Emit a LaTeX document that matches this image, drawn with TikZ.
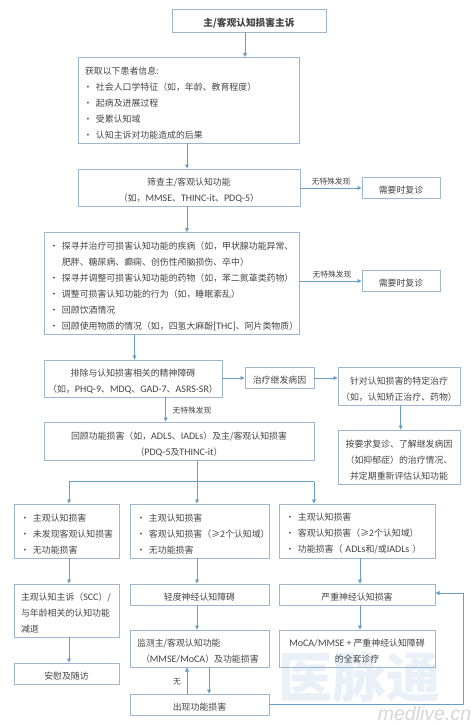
\documentclass[tikz,border=0pt]{standalone}
\usepackage{fontspec}
\setmainfont{Noto Sans CJK SC}
\newfontfamily\carl{Carlito}
\newfontfamily\wmfont{Liberation Sans}
\usetikzlibrary{arrows.meta}
\definecolor{boxc}{HTML}{9DB8CE}
\definecolor{arrc}{HTML}{6A9CC8}
\definecolor{txtc}{HTML}{444444}
\definecolor{wmblue}{HTML}{E9F0F7}
\definecolor{wmgray}{HTML}{D6D6D6}
\newcommand{\la}[1]{{\carl\fontsize{10}{16}\selectfont #1}}
\newcommand{\bl}{\makebox[11pt][l]{\hspace*{-1.5pt}•}}
\newcommand{\bx}[7][]{%
  \pgfmathsetmacro\bw{#5-#3}\pgfmathsetmacro\bh{#6-#4}%
  \pgfmathsetmacro\bcx{(#3+#5)/2}\pgfmathsetmacro\bcy{(#4+#6)/2}%
  \node[boxn,minimum width=\bw pt,minimum height=\bh pt] (#2) at (\bcx,\bcy) {};
  \node[txtn,#1] (#2t) at (#2.center) {#7};}
\tikzset{
  boxn/.style={draw=boxc,line width=0.9pt,inner sep=0pt,outer sep=0pt},
  txtn/.style={inner sep=0pt,outer sep=0pt,align=center,text=txtc,yshift=-3pt,
    font=\fontsize{8.9}{16}\selectfont},
  pad/.style={text width=\bw pt-#1*2pt,align=left},
  arr/.style={draw=arrc,line width=1pt,-{Latex[length=4.5pt,width=4.5pt]}},
  lin/.style={draw=arrc,line width=1pt},
  lab/.style={inner sep=0pt,text=txtc,font=\fontsize{7.8}{10}\selectfont},
  wm/.style={inner sep=0pt,text=wmblue}
}
\begin{document}
\begin{tikzpicture}[x=1pt,y=-1pt]
\useasboundingbox (0,0) rectangle (474,725);
% watermark
\node[wm,font=\bfseries\fontsize{54}{54}\selectfont] (wm1) at (359,677) {医脉通};
\node[inner sep=0pt,text=wmgray,font=\wmfont\itshape\fontsize{19.5}{20}\selectfont] (wm2) at (424.5,714) {medlive.cn};
% boxes
\bx[font=\bfseries\fontsize{9.7}{16}\selectfont]{A}{172}{9}{326}{32}{主/客观认知损害主诉}
\bx[pad=7]{B}{78}{57.5}{299.5}{143}{获取以下患者信息:\\\bl 社会人口学特征（如，年龄、教育程度）\\\bl 起病及进展过程\\\bl 受累认知域\\\bl 认知主诉对功能造成的后果}
\bx{C}{78}{169}{300}{206}{筛查主/客观认知功能\\（如，\la{MMSE}、\la{THINC-it}、\la{PDQ-5}）}
\bx{C2}{362}{177}{440}{198}{需要时复诊}
\bx[pad=7]{D}{44}{232.5}{299.5}{334}{\bl 探寻并治疗可损害认知功能的疾病（如，甲状腺功能异常、\\\hspace*{11pt}肥胖、糖尿病、癫痫、创伤性颅脑损伤、卒中）\\\bl 探寻并调整可损害认知功能的药物（如，苯二氮䓬类药物）\\\bl 调整可损害认知功能的行为（如，睡眠紊乱）\\\bl 回顾饮酒情况\\\bl 回顾使用物质的情况（如，四氢大麻酚\la{[THC]}、阿片类物质）}
\bx{D2}{362}{270}{440}{291}{需要时复诊}
\bx{C3}{44}{360}{222}{397}{排除与认知损害相关的精神障碍\\（如，\la{PHQ-9}、\la{MDQ}、\la{GAD-7}、\la{ASRS-SR}）}
\bx{F}{245}{367}{314}{388}{治疗继发病因}
\bx{G}{338}{367}{460}{405}{针对认知损害的特定治疗\\（如，认知矫正治疗、药物）}
\bx{H}{44}{422}{314}{460}{回顾功能损害（如，\la{ADLS}、\la{IADLs}）及主/客观认知损害\\（\la{PDQ-5}及\la{THINC-it}）}
\bx{I}{338}{430}{460}{484}{按要求复诊、了解继发病因\\（如抑郁症）的治疗情况、\\并定期重新评估认知功能}
\bx[pad=8]{J1}{14}{504}{119}{558}{\bl 主观认知损害\\\bl 未发现客观认知损害\\\bl 无功能损害}
\bx[pad=8]{J2}{130}{504}{269}{558}{\bl 主观认知损害\\\bl 客观认知损害（≥2个认知域）\\\bl 无功能损害}
\bx[pad=8]{J3}{279}{504}{435}{558}{\bl 主观认知损害\\\bl 客观认知损害（≥2个认知域）\\\bl 功能损害（ \la{ADLs}和/或\la{IADLs} ）}
\bx[pad=7]{K1}{14}{584}{119}{637}{主观认知主诉（\la{SCC}）/\\与年龄相关的认知功能\\减退}
\bx{K2}{130}{584}{269}{605}{轻度神经认知障碍}
\bx{K3}{279}{584}{435}{605}{严重神经认知损害}
\bx{L1}{14}{663}{119}{684}{安慰及随访}
\bx[pad=7]{L2}{130}{630}{269}{667}{监测主/客观认知功能\\\hspace*{4pt}（\la{MMSE/MoCA}）及功能损害}
\bx{L3}{279}{630}{435}{667}{\la{MoCA/MMSE} + 严重神经认知障碍\\的全套诊疗}
\bx{M}{130}{694}{269}{715}{出现功能损害}
% helper positions
\coordinate (xa) at (245,0);
\coordinate (xb) at (187,0);
\coordinate (xc) at (134.5,0);
\coordinate (xd) at (165.7,0);
\coordinate (xg) at (400.7,0);
\coordinate (x1) at (69,0);
\coordinate (x2) at (197,0);
\coordinate (x3) at (314,0);
\coordinate (x4) at (360,0);
\coordinate (xu) at (187,0);
\coordinate (xv) at (209,0);
\coordinate (xr) at (463,0);
\coordinate (bus) at (0,481.5);
\coordinate (yc) at (0,188);
\coordinate (yd) at (0,281);
\coordinate (ye) at (0,378);
\coordinate (ym) at (0,704);
\coordinate (yk) at (0,593);
% connectors
\draw[arr] (A.south -| xa) -- (B.north -| xa);
\draw[arr] (B.south -| xb) -- (C.north -| xb);
\draw[arr] (C.south -| xb) -- (D.north -| xb);
\draw[arr] (C.east |- yc) -- (C2.west |- yc);
\draw[arr] (D.east |- yd) -- (D2.west |- yd);
\draw[arr] (D.south -| xc) -- (C3.north -| xc);
\draw[arr] (C3.south -| xd) -- (H.north -| xd);
\draw[arr] (C3.east |- ye) -- (F.west |- ye);
\draw[arr] (F.east |- ye) -- (G.west |- ye);
\draw[arr] (G.south -| xg) -- (I.north -| xg);
\draw[lin] (H.south -| x2) -- (x2 |- bus);
\draw[lin] (x1 |- bus) -- (x3 |- bus);
\draw[arr] (x1 |- bus) -- (J1.north -| x1);
\draw[arr] (x2 |- bus) -- (J2.north -| x2);
\draw[arr] (x3 |- bus) -- (J3.north -| x3);
\draw[arr] (J1.south -| x1) -- (K1.north -| x1);
\draw[arr] (K1.south -| x1) -- (L1.north -| x1);
\draw[arr] (J2.south -| x2) -- (K2.north -| x2);
\draw[arr] (K2.south -| x2) -- (L2.north -| x2);
\draw[arr] (J3.south -| x4) -- (K3.north -| x4);
\draw[arr] (K3.south -| x4) -- (L3.north -| x4);
\draw[arr] (M.north -| xu) -- (L2.south -| xu);
\draw[arr] (L2.south -| xv) -- (M.north -| xv);
\draw[arr] (M.east |- ym) -- (xr |- ym) -- (xr |- yk) -- (K3.east |- yk);
% labels
\node[lab] (n1) at (331,181.5) {无特殊发现};
\node[lab] (n2) at (332,274.5) {无特殊发现};
\node[lab] (n3) at (192,410.5) {无特殊发现};
\node[lab] (n4) at (177,681.5) {无};
\end{tikzpicture}
\end{document}
